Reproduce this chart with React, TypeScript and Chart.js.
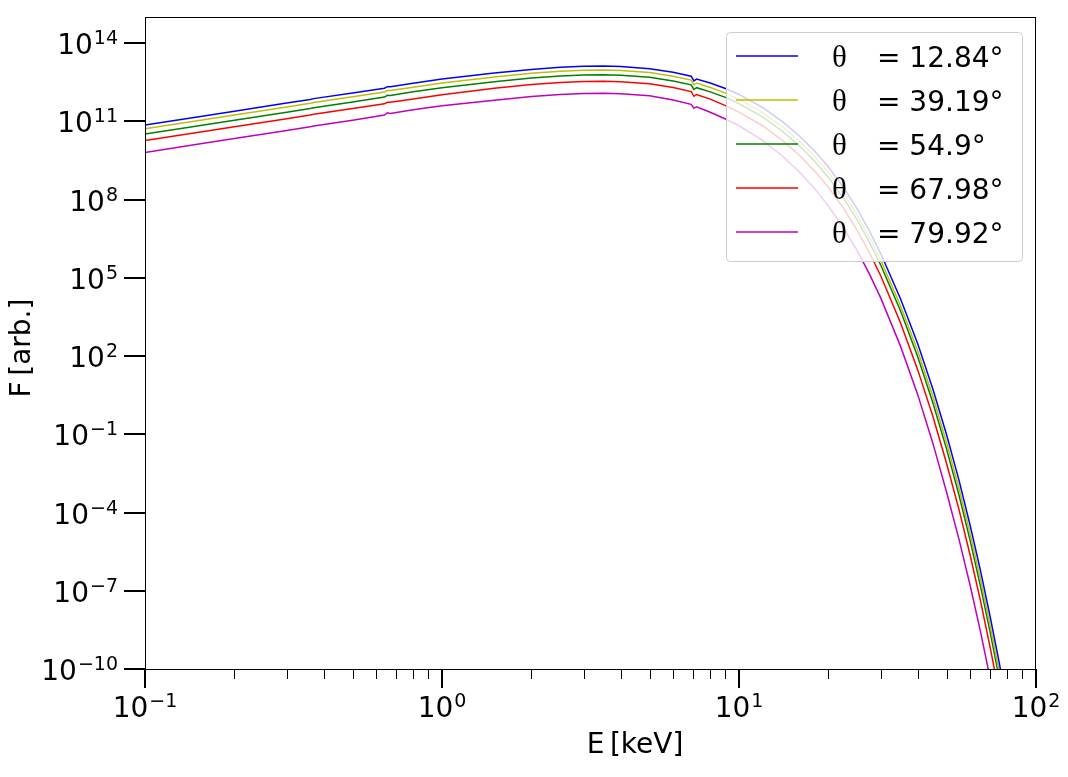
import { useEffect, useRef } from "react";
import Chart from "chart.js/auto";

// photon energy grid [keV]
const energyKeV = [
  0.1, 0.15, 0.2, 0.3, 0.36, 0.37, 0.5, 0.64, 0.655, 0.67, 0.8, 1, 1.5, 2, 2.5, 3, 3.5, 4, 5, 6,
  6.9, 7.05, 7.2, 8, 9, 10, 12, 14, 16, 18, 20, 22.5, 25, 27.5, 30, 35, 40, 45, 50, 55, 60, 65,
  70, 75, 80,
];

// log10 of flux, one list per viewing angle
const logF_12_84 = [
  10.86, 11.17, 11.39, 11.7, 11.84, 11.87, 12.09, 12.27, 12.33, 12.33, 12.46, 12.62, 12.85, 12.99,
  13.07, 13.11, 13.12, 13.1, 13.02, 12.88, 12.73, 12.55, 12.62, 12.47, 12.26, 12.03, 11.53, 10.99,
  10.43, 9.85, 9.25, 8.46, 7.64, 6.79, 5.93, 4.19, 2.46, 0.72, -1.02, -2.75, -4.49, -6.22, -7.96,
  -9.69, -11.43,
];
const logF_39_19 = [
  10.71, 11.02, 11.24, 11.55, 11.69, 11.72, 11.94, 12.12, 12.18, 12.18, 12.31, 12.47, 12.7, 12.84,
  12.92, 12.96, 12.97, 12.95, 12.87, 12.73, 12.58, 12.4, 12.47, 12.3, 12.08, 11.84, 11.33, 10.79,
  10.23, 9.65, 9.05, 8.24, 7.41, 6.55, 5.68, 3.92, 2.18, 0.43, -1.32, -3.06, -4.81, -6.55, -8.3,
  -10.04, -11.78,
];
const logF_54_9 = [
  10.51, 10.82, 11.04, 11.35, 11.49, 11.52, 11.74, 11.93, 12.0, 11.99, 12.13, 12.29, 12.52, 12.66,
  12.74, 12.78, 12.79, 12.77, 12.69, 12.55, 12.4, 12.22, 12.29, 12.13, 11.92, 11.68, 11.17, 10.62,
  10.05, 9.46, 8.85, 8.05, 7.22, 6.36, 5.49, 3.73, 1.96, 0.19, -1.57, -3.32, -5.07, -6.82, -8.56,
  -10.29, -12.03,
];
const logF_67_98 = [
  10.26, 10.57, 10.79, 11.1, 11.24, 11.27, 11.49, 11.67, 11.73, 11.73, 11.86, 12.02, 12.27, 12.41,
  12.49, 12.53, 12.54, 12.52, 12.44, 12.3, 12.14, 11.96, 12.03, 11.85, 11.6, 11.35, 10.83, 10.27,
  9.69, 9.09, 8.47, 7.66, 6.82, 5.96, 5.08, 3.27, 1.46, -0.33, -2.12, -3.87, -5.63, -7.38, -9.14,
  -10.89, -12.65,
];
const logF_79_92 = [
  9.8, 10.12, 10.34, 10.65, 10.79, 10.82, 11.04, 11.24, 11.33, 11.3, 11.44, 11.6, 11.81, 11.95,
  12.03, 12.07, 12.08, 12.06, 11.98, 11.82, 11.65, 11.5, 11.56, 11.35, 11.09, 10.83, 10.27, 9.67,
  9.05, 8.41, 7.75, 6.9, 6.04, 5.14, 4.23, 2.37, 0.51, -1.36, -3.22, -5.01, -6.79, -8.56, -10.33,
  -12.09, -13.85,
];

const seriesLog = [logF_12_84, logF_39_19, logF_54_9, logF_67_98, logF_79_92];
const angleLabels = ["12.84", "39.19", "54.9", "67.98", "79.92"];
const lineColors = ["#0000ff", "#bfbf00", "#008000", "#ff0000", "#bf00bf"];

const xMajorTicks = [0.1, 1, 10, 100];
const xMajorExp = ["−1", "0", "1", "2"];
const xMinorTicks = [
  0.2, 0.3, 0.4, 0.5, 0.6, 0.7, 0.8, 0.9, 2, 3, 4, 5, 6, 7, 8, 9, 20, 30, 40, 50, 60, 70, 80, 90,
];
const yMajorExp = [-10, -7, -4, -1, 2, 5, 8, 11, 14];

const FONT = "'DejaVu Sans', sans-serif";

function drawPower(
  ctx: CanvasRenderingContext2D,
  exp: string,
  anchorX: number,
  baseY: number,
  supY: number,
  align: "center" | "right"
) {
  ctx.font = `28px ${FONT}`;
  const wBase = ctx.measureText("10").width;
  ctx.font = `19px ${FONT}`;
  const wSup = ctx.measureText(exp).width;
  const total = wBase + 1 + wSup;
  const left = align === "center" ? anchorX - total / 2 : anchorX - total;
  ctx.textAlign = "left";
  ctx.textBaseline = "alphabetic";
  ctx.font = `28px ${FONT}`;
  ctx.fillText("10", left, baseY);
  ctx.font = `19px ${FONT}`;
  ctx.fillText(exp, left + wBase + 1, supY);
}

const mplAxes = {
  id: "mplAxes",
  afterDraw(chart: any) {
    const { ctx, chartArea: a, scales } = chart;
    const xs = scales.x;
    const ys = scales.y;
    ctx.save();
    ctx.fillStyle = "#000";
    ctx.strokeStyle = "#000";

    // frame
    ctx.lineWidth = 1;
    ctx.strokeRect(a.left + 0.5, a.top + 0.5, a.right - a.left - 1, a.bottom - a.top);

    // x ticks
    ctx.lineWidth = 1;
    xMinorTicks.forEach((v) => {
      const px = Math.round(xs.getPixelForValue(v)) + 0.5;
      ctx.beginPath();
      ctx.moveTo(px, a.bottom);
      ctx.lineTo(px, a.bottom + 10);
      ctx.stroke();
    });
    ctx.lineWidth = 2;
    xMajorTicks.forEach((v, i) => {
      const px = Math.round(xs.getPixelForValue(v));
      ctx.beginPath();
      ctx.moveTo(px, a.bottom);
      ctx.lineTo(px, a.bottom + 19);
      ctx.stroke();
      drawPower(ctx, xMajorExp[i], px, a.bottom + 48, a.bottom + 38, "center");
    });

    // y ticks
    yMajorExp.forEach((e) => {
      const py = Math.round(ys.getPixelForValue(Math.pow(10, e)));
      ctx.lineWidth = 2;
      ctx.beginPath();
      ctx.moveTo(a.left - 21, py);
      ctx.lineTo(a.left, py);
      ctx.stroke();
      const txt = e < 0 ? "−" + Math.abs(e) : String(e);
      drawPower(ctx, txt, a.left - 27, py + 11, py + 1, "right");
    });

    // axis titles
    ctx.font = `28px ${FONT}`;
    ctx.textAlign = "center";
    ctx.textBaseline = "alphabetic";
    ctx.fillText("E\u2009[keV]", 635, a.bottom + 84);
    ctx.save();
    ctx.translate(30, 348);
    ctx.rotate(-Math.PI / 2);
    ctx.fillText("F\u2009[arb.]", 0, 0);
    ctx.restore();

    // legend
    const bw = 296;
    const bh = 229;
    const bx = a.right - 14 - bw;
    const by = a.top + 15;
    ctx.beginPath();
    ctx.roundRect(bx + 0.5, by + 0.5, bw, bh, 4);
    ctx.fillStyle = "rgba(255,255,255,0.8)";
    ctx.fill();
    ctx.strokeStyle = "#cccccc";
    ctx.lineWidth = 1;
    ctx.stroke();
    angleLabels.forEach((lab, i) => {
      const ry = by + 24 + i * 44;
      ctx.strokeStyle = lineColors[i];
      ctx.lineWidth = 1.5;
      ctx.beginPath();
      ctx.moveTo(bx + 10, ry);
      ctx.lineTo(bx + 72, ry);
      ctx.stroke();
      ctx.fillStyle = "#000";
      ctx.textAlign = "left";
      ctx.textBaseline = "alphabetic";
      ctx.font = `31px 'Liberation Serif', serif`;
      ctx.fillText("θ", bx + 106, ry + 11);
      ctx.font = `28px ${FONT}`;
      ctx.fillText("= " + lab + "°", bx + 151, ry + 11);
    });
    ctx.restore();
  },
};

export default function App() {
  const canvasRef = useRef<HTMLCanvasElement>(null);

  useEffect(() => {
    document.body.style.margin = "0";
    if (!canvasRef.current) return;
    const chart = new Chart(canvasRef.current, {
      type: "line",
      data: {
        datasets: seriesLog.map((vals, i) => ({
          label: "θ = " + angleLabels[i] + "°",
          data: energyKeV.map((e, k) => ({ x: e, y: Math.pow(10, vals[k]) })),
          borderColor: lineColors[i],
          borderWidth: 1.5,
          pointRadius: 0,
          fill: false,
          tension: 0,
        })),
      },
      options: {
        animation: false,
        responsive: true,
        maintainAspectRatio: false,
        layout: { padding: { top: 17, right: 32, left: 0, bottom: 0 } },
        plugins: { legend: { display: false }, tooltip: { enabled: false } },
        scales: {
          x: {
            type: "logarithmic",
            min: 0.1,
            max: 100,
            grid: { display: false },
            border: { display: false },
            ticks: { display: false },
            afterFit: (s: any) => {
              s.height = 108;
            },
          },
          y: {
            type: "logarithmic",
            min: 1e-10,
            max: 1e15,
            grid: { display: false },
            border: { display: false },
            ticks: { display: false },
            afterFit: (s: any) => {
              s.width = 145;
            },
          },
        },
      },
      plugins: [mplAxes],
    });
    return () => chart.destroy();
  }, []);

  return (
    <div style={{ position: "relative", width: 1068, height: 777, background: "#fff" }}>
      <canvas ref={canvasRef} />
    </div>
  );
}
